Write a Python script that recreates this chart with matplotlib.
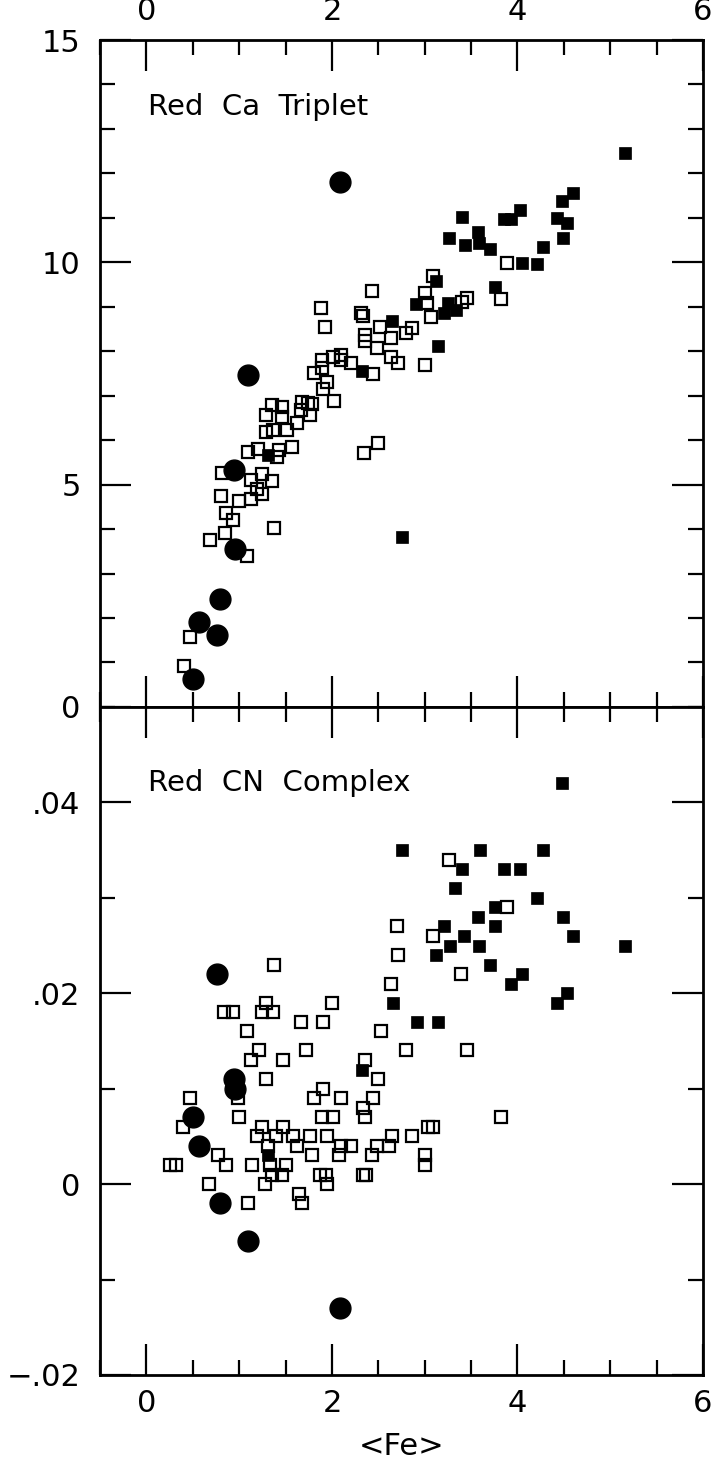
import matplotlib
matplotlib.use("Agg")
import matplotlib.pyplot as plt
from matplotlib.ticker import MultipleLocator, FixedLocator, FixedFormatter

# big dots (same stars in both panels)
fe_dot = [0.50, 0.57, 0.76, 0.79, 0.94, 0.95, 1.09, 2.09]
ca_dot = [0.63, 1.91, 1.62, 2.43, 5.33, 3.55, 7.47, 11.8]
cn_dot = [0.007, 0.004, 0.022, -0.002, 0.011, 0.010, -0.006, -0.013]

# Red Ca triplet: open squares
fe_ca_open = [0.41, 0.47, 0.69, 0.85, 0.86, 0.93, 0.80, 1.00, 1.13, 1.08, 1.38, 0.82,
              1.13, 1.25, 1.35, 1.19, 1.25, 1.09, 1.20, 1.43, 1.41, 1.57, 1.35, 1.46,
              1.29, 1.46, 1.52, 1.29, 1.36, 1.68, 1.74, 1.79, 1.76, 1.62, 2.02, 1.90,
              1.95, 1.81, 1.89, 1.89, 2.01, 2.10, 2.10, 2.21, 1.88, 1.93, 2.43, 2.34,
              2.36, 2.36, 2.49, 2.44, 2.52, 2.64, 2.80, 2.86, 2.64, 2.71, 3.00, 2.35,
              2.50, 3.00, 3.02, 3.09, 3.07, 3.40, 3.46, 3.89, 3.82, 1.67, 2.31]
ca_open = [0.92, 1.57, 3.76, 3.91, 4.36, 4.21, 4.74, 4.63, 4.68, 3.40, 4.03, 5.26,
           5.10, 5.24, 5.08, 4.90, 4.79, 5.73, 5.80, 5.78, 5.62, 5.85, 6.79, 6.75,
           6.57, 6.52, 6.23, 6.18, 6.23, 6.86, 6.84, 6.81, 6.57, 6.39, 6.88, 7.15,
           7.31, 7.51, 7.62, 7.80, 7.87, 7.92, 7.80, 7.74, 8.97, 8.55, 9.35, 8.79,
           8.37, 8.23, 8.07, 7.49, 8.55, 8.30, 8.41, 8.52, 7.87, 7.74, 7.69, 5.71,
           5.94, 9.31, 9.08, 9.69, 8.77, 9.11, 9.20, 9.98, 9.17, 6.68, 8.86]

# Red Ca triplet: filled squares
fe_ca_fill = [5.16, 4.60, 4.48, 4.03, 3.40, 3.86, 3.93, 4.43, 4.53, 3.26, 3.57, 3.43,
              3.59, 3.70, 4.49, 4.28, 4.05, 4.21, 3.76, 3.12, 2.91, 3.25, 3.34, 3.21,
              3.14, 2.65, 2.32, 2.75, 1.31]
ca_fill = [12.46, 11.56, 11.38, 11.18, 11.02, 10.97, 10.97, 11.00, 10.88, 10.55, 10.68,
           10.39, 10.43, 10.30, 10.55, 10.34, 9.98, 9.96, 9.44, 9.58, 9.06, 9.08, 8.93,
           8.86, 8.12, 8.68, 7.56, 3.82, 5.67]

# Red CN complex: open squares
fe_cn_open = [3.26, 3.09, 2.70, 2.71, 2.64, 2.00, 3.39, 2.53, 1.90, 1.67, 2.80, 3.46,
              3.82, 3.89, 1.38, 0.84, 0.93, 1.29, 1.25, 1.36, 1.08, 1.21, 1.13, 1.47,
              1.72, 2.36, 2.50, 1.29, 0.47, 0.99, 1.90, 1.81, 2.10, 2.44, 2.34, 0.39,
              1.00, 1.89, 2.01, 2.36, 1.25, 1.47, 1.19, 1.40, 1.58, 1.76, 1.95, 2.65,
              2.86, 1.31, 1.62, 2.10, 2.21, 2.49, 2.62, 0.77, 0.86, 1.78, 2.08, 2.43,
              0.25, 0.32, 1.14, 1.33, 1.51, 1.87, 1.94, 2.33, 2.37, 1.35, 1.46, 1.95,
              1.28, 0.68, 1.64, 1.68, 1.09, 3.03, 3.09, 3.00, 3.00]
cn_open = [0.034, 0.026, 0.027, 0.024, 0.021, 0.019, 0.022, 0.016, 0.017, 0.017, 0.014,
           0.014, 0.007, 0.029, 0.023, 0.018, 0.018, 0.019, 0.018, 0.018, 0.016, 0.014,
           0.013, 0.013, 0.014, 0.013, 0.011, 0.011, 0.009, 0.009, 0.010, 0.009, 0.009,
           0.009, 0.008, 0.006, 0.007, 0.007, 0.007, 0.007, 0.006, 0.006, 0.005, 0.005,
           0.005, 0.005, 0.005, 0.005, 0.005, 0.004, 0.004, 0.004, 0.004, 0.004, 0.004,
           0.003, 0.002, 0.003, 0.003, 0.003, 0.002, 0.002, 0.002, 0.002, 0.002, 0.001,
           0.001, 0.001, 0.001, 0.001, 0.001, 0.000, 0.000, 0.000, -0.001, -0.002, -0.002,
           0.006, 0.006, 0.003, 0.002]

# Red CN complex: filled squares
fe_cn_fill = [4.48, 2.75, 3.60, 4.28, 3.40, 3.86, 4.03, 3.33, 4.21, 3.76, 3.57, 4.49,
              3.21, 3.76, 3.42, 4.60, 3.27, 3.59, 5.16, 3.12, 3.70, 4.05, 3.93, 4.53,
              4.43, 2.66, 2.92, 3.14, 2.32, 1.31]
cn_fill = [0.042, 0.035, 0.035, 0.035, 0.033, 0.033, 0.033, 0.031, 0.030, 0.029, 0.028,
           0.028, 0.027, 0.027, 0.026, 0.026, 0.025, 0.025, 0.025, 0.024, 0.023, 0.022,
           0.021, 0.020, 0.019, 0.019, 0.017, 0.017, 0.012, 0.003]

cn_ticks = [-0.02, 0, 0.02, 0.04]
cn_labels = ["\u2212.02", "0", ".02", ".04"]

plt.rcParams["font.family"] = ["DejaVu Sans"]
fig = plt.figure(figsize=(7.13, 14.71), dpi=100)
ax1 = fig.add_axes([0.1403, 0.5194, 0.8457, 0.4534])
ax2 = fig.add_axes([0.1403, 0.0653, 0.8457, 0.4541])

open_kw = dict(ls="none", marker="s", ms=8.5, mfc="none", mec="black", mew=1.6)
fill_kw = dict(ls="none", marker="s", ms=8.0, mfc="black", mec="black", mew=0.5)
dot_kw = dict(ls="none", marker="o", ms=15, mfc="black", mec="black")

ax1.plot(fe_ca_open, ca_open, **open_kw)
ax1.plot(fe_ca_fill, ca_fill, **fill_kw)
ax1.plot(fe_dot, ca_dot, **dot_kw)

ax2.plot(fe_cn_open, cn_open, **open_kw)
ax2.plot(fe_cn_fill, cn_fill, **fill_kw)
ax2.plot(fe_dot, cn_dot, **dot_kw)

for ax in (ax1, ax2):
    ax.set_xlim(-0.5, 6)
    ax.xaxis.set_major_locator(MultipleLocator(2))
    ax.xaxis.set_minor_locator(MultipleLocator(0.5))
    ax.tick_params(which="both", direction="in", top=True, right=True,
                   width=1.6, labelsize=22, pad=10)
    ax.tick_params(axis="y", which="both", pad=14)
    ax.tick_params(which="major", length=22)
    ax.tick_params(which="minor", length=11)
    for s in ax.spines.values():
        s.set_linewidth(2)

ax1.set_ylim(0, 15)
ax1.yaxis.set_major_locator(MultipleLocator(5))
ax1.yaxis.set_minor_locator(MultipleLocator(1))
ax1.tick_params(labeltop=True, labelbottom=False)
ax1.text(0.08, 0.90, "Red  Ca  Triplet", transform=ax1.transAxes,
         fontsize=21, va="center", ha="left")

ax2.set_ylim(-0.02, 0.05)
ax2.yaxis.set_major_locator(FixedLocator(cn_ticks))
ax2.yaxis.set_major_formatter(FixedFormatter(cn_labels))
ax2.yaxis.set_minor_locator(MultipleLocator(0.01))
ax2.text(0.08, 0.886, "Red  CN  Complex", transform=ax2.transAxes,
         fontsize=21, va="center", ha="left")
ax2.set_xlabel("<Fe>", fontsize=22, labelpad=10)

fig.savefig("out.png", dpi=100)
